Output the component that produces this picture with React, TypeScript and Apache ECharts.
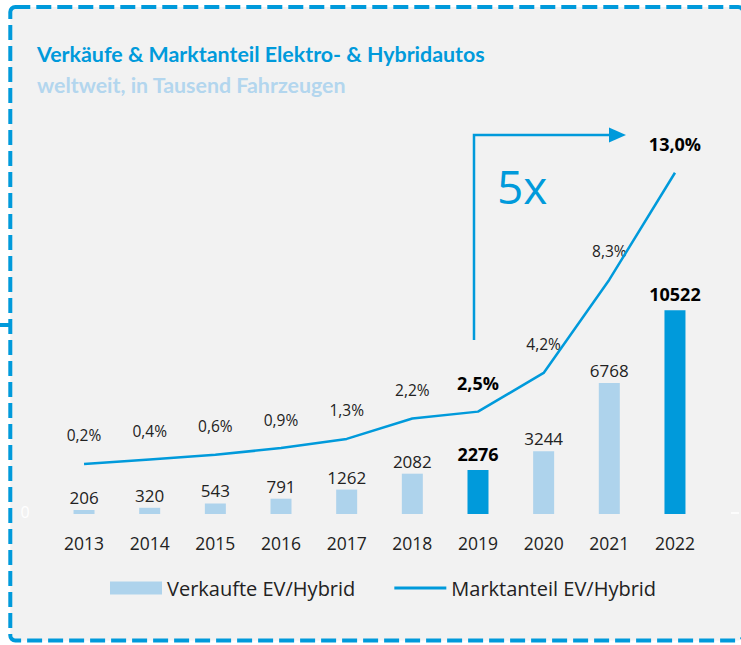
import React, { useEffect, useRef } from "react";
import * as echarts from "echarts";

const years = ["2013", "2014", "2015", "2016", "2017", "2018", "2019", "2020", "2021", "2022"];
const sales = [206, 320, 543, 791, 1262, 2082, 2276, 3244, 6768, 10522];
const share = [0.2, 0.4, 0.6, 0.9, 1.3, 2.2, 2.5, 4.2, 8.3, 13.0];
const highlightYears = ["2019", "2022"];
const barName = "Verkaufte EV/Hybrid";
const lineName = "Marktanteil EV/Hybrid";
const titleText = "Verkäufe & Marktanteil Elektro- & Hybridautos";
const subtitleText = "weltweit, in Tausend Fahrzeugen";
const growthText = "5x";

const BLUE = "#009ADB";
const LIGHT = "#AED3EC";
const FONT = "'Open Sans', sans-serif";
const TFONT = "Lato, 'Open Sans', sans-serif";

export default function App() {
  const ref = useRef<HTMLDivElement>(null);
  useEffect(() => {
    if (!ref.current) return;
    const chart = echarts.init(ref.current, undefined, { renderer: "svg" });
    const fmtPct = (v: number) => v.toFixed(1).replace(".", ",") + "%";
    const barData = sales.map((v, i) => {
      const hi = highlightYears.includes(years[i]);
      return {
        value: v,
        itemStyle: { color: hi ? BLUE : LIGHT },
        label: hi
          ? { fontWeight: "bold", fontSize: 18, color: "#000", distance: 7 }
          : { fontWeight: "normal", fontSize: 17, color: "#222", distance: 4 },
      };
    });
    const pctData = share.map((v, i) => {
      const hi = highlightYears.includes(years[i]);
      return {
        value: v,
        label: hi
          ? { fontWeight: "bold", fontSize: 18, color: "#000", distance: 19 }
          : { fontWeight: "normal", fontSize: 15.5, color: "#222", distance: 20 },
      };
    });
    chart.setOption({
      animation: false,
      backgroundColor: "#ffffff",
      textStyle: { fontFamily: FONT },
      grid: { left: 51.2, right: 33.2, top: 150, bottom: 131, containLabel: false },
      legend: {
        left: 105,
        top: 573,
        itemWidth: 52,
        itemHeight: 13,
        itemGap: 39,
        textStyle: { fontSize: 20, color: "#222", fontFamily: FONT },
        data: [
          { name: barName, icon: "rect", itemStyle: { color: LIGHT } },
          { name: lineName, icon: "path://M0,0H52V3H0Z", itemStyle: { color: BLUE } },
        ],
      },
      xAxis: {
        type: "category",
        data: years,
        axisLine: { show: false },
        axisTick: { show: false },
        axisLabel: { fontSize: 17.5, color: "#222", margin: 20, fontFamily: FONT },
      },
      yAxis: [
        { type: "value", min: 0, max: 18800, show: false, splitLine: { show: false } },
        { type: "value", min: -2, max: 14, show: false, splitLine: { show: false } },
      ],
      series: [
        {
          name: barName,
          type: "bar",
          data: barData,
          barWidth: 21,
          itemStyle: { color: LIGHT },
          label: { show: true, position: "top", fontFamily: FONT },
        },
        {
          name: lineName,
          type: "line",
          yAxisIndex: 1,
          data: share,
          symbol: "none",
          clip: false,
          lineStyle: { color: BLUE, width: 2.5 },
          itemStyle: { color: BLUE },
        },
        {
          name: "labels",
          type: "scatter",
          yAxisIndex: 1,
          data: pctData,
          symbolSize: 1,
          clip: false,
          silent: true,
          itemStyle: { color: "rgba(0,0,0,0)", opacity: 1 },
          label: { show: true, position: "top", fontFamily: FONT, formatter: (p: any) => fmtPct(p.value) },
        },
      ],
      graphic: [
        {
          type: "rect",
          z: -10,
          silent: true,
          shape: { x: 10.3, y: 7, width: 733, height: 633.5, r: 5 },
          style: { fill: "#F2F2F2", stroke: BLUE, lineWidth: 4, lineDash: [15, 6] },
        },
        {
          type: "line",
          shape: { x1: 0, y1: 325, x2: 10, y2: 325 },
          style: { stroke: BLUE, lineWidth: 4 },
        },
        {
          type: "line",
          shape: { x1: 731, y1: 513, x2: 739, y2: 513 },
          style: { stroke: "#ffffff", lineWidth: 1.5 },
        },
        {
          type: "text",
          style: { text: "0", x: 25, y: 512, fill: "#ffffff", font: `16px ${FONT}`, textAlign: "center", textVerticalAlign: "middle" },
        },
        {
          type: "text",
          style: { text: titleText, x: 37, y: 54, fill: BLUE, font: `bold 21.4px ${TFONT}`, textVerticalAlign: "middle" },
        },
        {
          type: "text",
          style: { text: subtitleText, x: 37, y: 85, fill: "#B3D6EE", font: `bold 21.4px ${TFONT}`, textVerticalAlign: "middle" },
        },
        {
          type: "text",
          style: { text: growthText, x: 497, y: 186, fill: BLUE, font: `46px ${FONT}`, textVerticalAlign: "middle" },
        },
        {
          type: "polyline",
          shape: { points: [[474, 340], [474, 135], [612, 135]] },
          style: { stroke: BLUE, lineWidth: 2.5, fill: "none" },
        },
        {
          type: "polygon",
          shape: { points: [[609, 127.5], [626, 135], [609, 142.5]] },
          style: { fill: BLUE },
        },
      ],
    });
    return () => chart.dispose();
  }, []);
  return <div ref={ref} style={{ position: "absolute", left: 0, top: 0, width: 741, height: 645 }} />;
}
